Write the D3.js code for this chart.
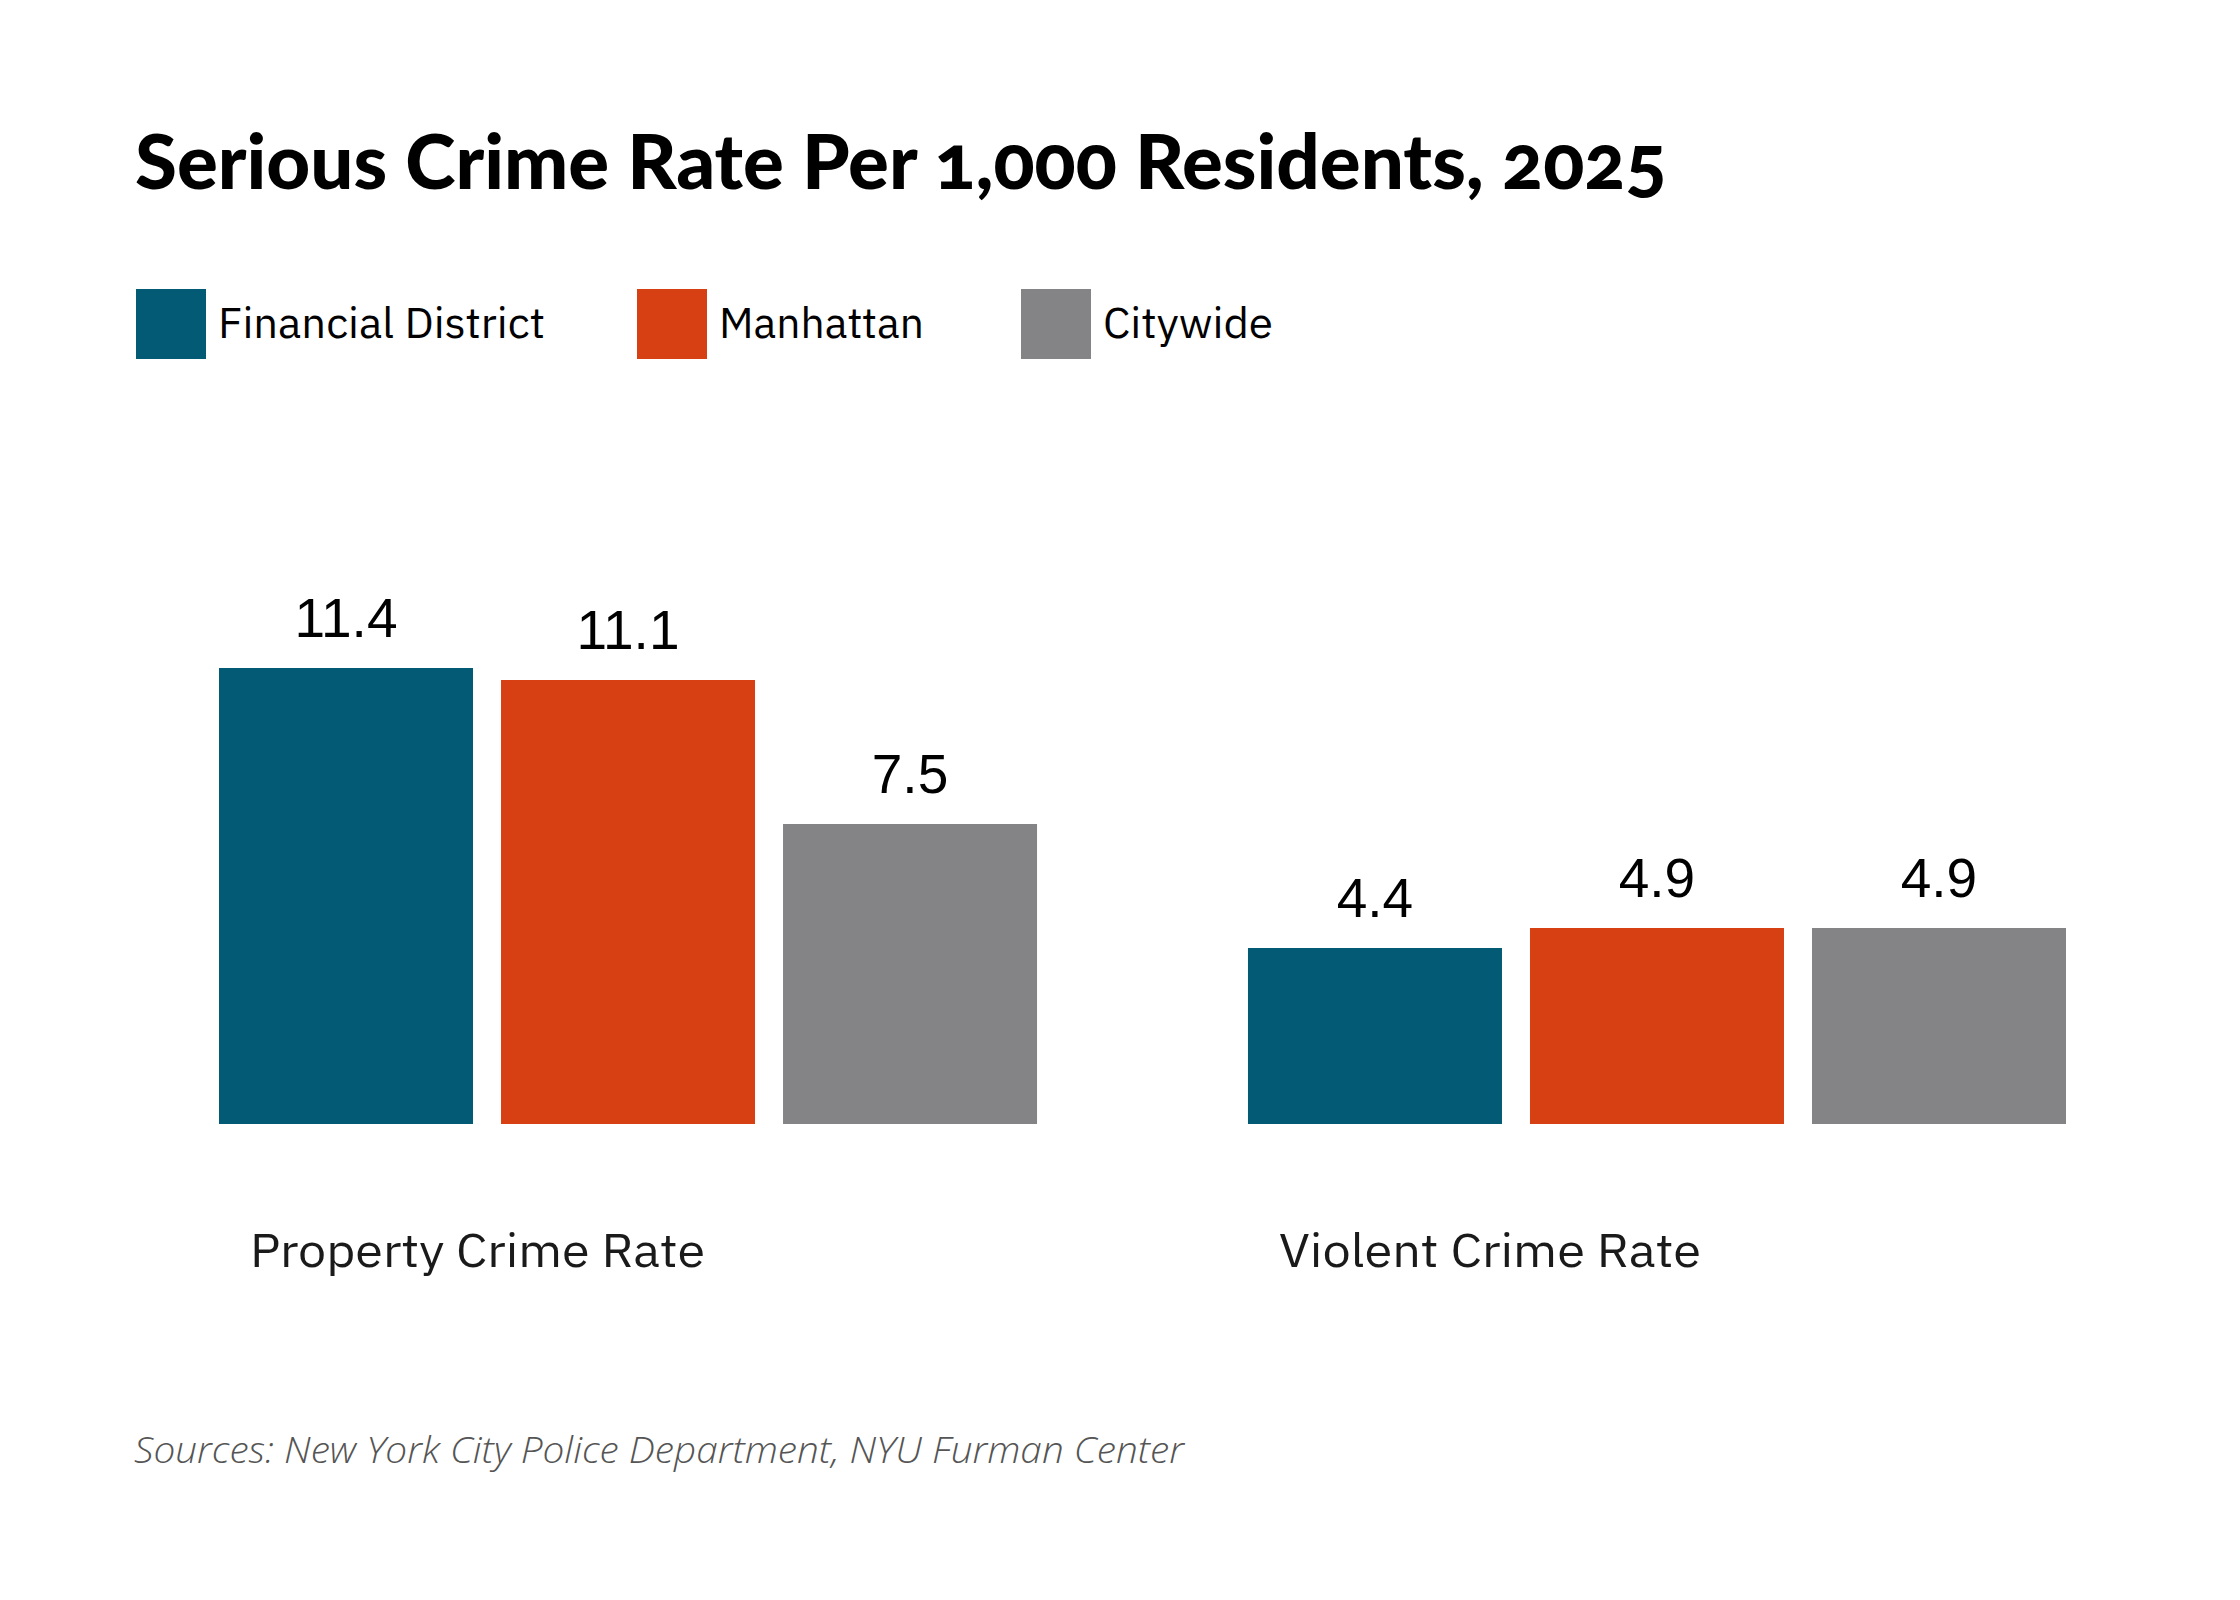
<!DOCTYPE html>
<html>
<head>
<meta charset="utf-8">
<script src="https://cdn.jsdelivr.net/npm/d3@7"></script>
<style>
  html, body { margin: 0; padding: 0; background: #fff; }
  svg { display: block; }
</style>
</head>
<body>
<div id="chart"></div>
<script>
// ---- data ----
const titleText = "Serious Crime Rate Per 1,000 Residents, 2025";
const sourceText = "Sources: New York City Police Department, NYU Furman Center";
const categories = ["Property Crime Rate", "Violent Crime Rate"];
const seriesNames = ["Financial District", "Manhattan", "Citywide"];
const financialDistrict = [11.4, 4.4];
const manhattan = [11.1, 4.9];
const citywide = [7.5, 4.9];
const seriesColors = ["#025A74", "#D74013", "#848486"];

// ---- layout ----
const W = 2240, H = 1600;
const svg = d3.select("#chart").append("svg").attr("width", W).attr("height", H);

const seriesValues = [financialDistrict, manhattan, citywide];
const rows = categories.map((c, i) => ({
  category: c,
  values: seriesNames.map((s, j) => ({ series: s, value: seriesValues[j][i], color: seriesColors[j] }))
}));

const x0 = d3.scaleBand().domain(categories).range([219, 2066]).paddingInner(0.205).paddingOuter(0);
const x1 = d3.scaleBand().domain(seriesNames).range([0, x0.bandwidth()]).paddingInner(0.0993).paddingOuter(0);
const y = d3.scaleLinear().domain([0, 11.4]).range([1124, 668]);

function fitWidth(textSel, target) {
  const node = textSel.node();
  const w = node.getComputedTextLength();
  const fs = parseFloat(textSel.attr("font-size"));
  textSel.attr("font-size", fs * target / w);
}

// Title
const title = svg.append("text")
  .attr("x", 135).attr("y", 189)
  .attr("font-family", "Lato, 'Open Sans', sans-serif")
  .attr("font-weight", 900)
  .attr("font-size", 68)
  .style("font-variant-numeric", "oldstyle-nums")
  .attr("fill", "#000")
  .text(titleText);
fitWidth(title, 1532);

// Legend
const legendX = [136, 637, 1021];
const legendWidths = [327, 205, 170];
const legend = svg.append("g");
seriesNames.forEach((s, i) => {
  legend.append("rect")
    .attr("x", legendX[i]).attr("y", 289)
    .attr("width", 70).attr("height", 70)
    .attr("fill", seriesColors[i]);
  legend.append("text")
    .attr("x", legendX[i] + 82).attr("y", 338)
    .attr("font-family", "'IBM Plex Sans', 'Noto Sans', sans-serif")
    .attr("font-size", 43)
    .attr("fill", "#000")
    .text(s)
    .attr("textLength", legendWidths[i])
    .attr("lengthAdjust", "spacingAndGlyphs");
});

// Bars
const groups = svg.append("g").selectAll("g")
  .data(rows).join("g")
  .attr("transform", d => `translate(${x0(d.category)},0)`);

groups.selectAll("rect")
  .data(d => d.values).join("rect")
  .attr("x", d => x1(d.series))
  .attr("y", d => y(d.value))
  .attr("width", x1.bandwidth())
  .attr("height", d => y(0) - y(d.value))
  .attr("fill", d => d.color);

groups.selectAll("text.val")
  .data(d => d.values).join("text")
  .attr("class", "val")
  .attr("x", d => x1(d.series) + x1.bandwidth() / 2)
  .attr("y", d => y(d.value) - 31)
  .attr("text-anchor", "middle")
  .attr("font-family", "'Liberation Sans', Arial, sans-serif")
  .attr("font-size", 55)
  .attr("fill", "#000")
  .text(d => d3.format(".1f")(d.value));

// Category labels
const catWidths = [455, 422];
groups.append("text")
  .attr("x", 31)
  .attr("y", 1267)
  .attr("font-family", "'IBM Plex Sans', 'Noto Sans', sans-serif")
  .attr("font-size", 47)
  .attr("fill", "#1a1a1a")
  .text(d => d.category)
  .attr("textLength", (d, i) => catWidths[i])
  .attr("lengthAdjust", "spacingAndGlyphs");

// Source
svg.append("text")
  .attr("x", 134).attr("y", 1463)
  .attr("font-family", "'Open Sans', 'Noto Sans', sans-serif")
  .attr("font-style", "italic")
  .attr("font-weight", 300)
  .attr("font-size", 37)
  .attr("fill", "#555")
  .text(sourceText)
  .attr("textLength", 1050)
  .attr("lengthAdjust", "spacingAndGlyphs");
</script>
</body>
</html>
